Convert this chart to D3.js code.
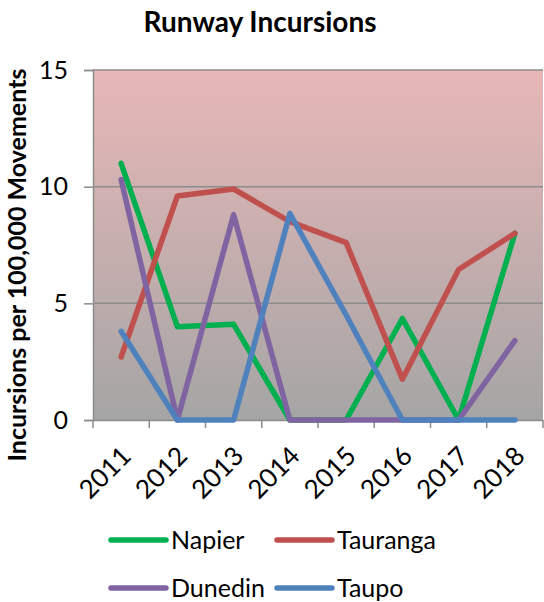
<!DOCTYPE html>
<html>
<head>
<meta charset="utf-8">
<script src="https://cdn.jsdelivr.net/npm/d3@7"></script>
<style>
  body { margin: 0; background: #fff; }
  svg { font-family: Lato, "Open Sans", sans-serif; }
</style>
</head>
<body>
<svg id="chart" width="544" height="602"></svg>
<script>
// chart data
var years = ["2011", "2012", "2013", "2014", "2015", "2016", "2017", "2018"];
var napier = [11.0, 4.0, 4.1, 0, 0, 4.35, 0, 8.0];
var tauranga = [2.7, 9.6, 9.9, 8.5, 7.6, 1.75, 6.45, 8.0];
var dunedin = [10.3, 0, 8.8, 0, 0, 0, 0, 3.4];
var taupo = [3.8, 0, 0, 8.85, 4.5, 0, 0, 0];
var yTicks = [0, 5, 10, 15];

var series = [
  { name: "Napier", color: "#00b050", values: napier },
  { name: "Tauranga", color: "#c0504d", values: tauranga },
  { name: "Dunedin", color: "#8064a2", values: dunedin },
  { name: "Taupo", color: "#4f81bd", values: taupo }
];

var svg = d3.select("#chart");
var plotLeft = 93, plotRight = 543, plotTop = 70, plotBottom = 420;

var x = d3.scaleBand().domain(years).range([plotLeft, plotRight]);
var y = d3.scaleLinear().domain([0, 15]).range([plotBottom, plotTop]);

// background gradient
var grad = svg.append("defs").append("linearGradient")
    .attr("id", "bg").attr("x1", 0).attr("y1", 0).attr("x2", 0).attr("y2", 1);
grad.append("stop").attr("offset", "0%").attr("stop-color", "#e8b7b7");
grad.append("stop").attr("offset", "100%").attr("stop-color", "#a5a5a5");

svg.append("rect")
    .attr("x", plotLeft).attr("y", plotTop)
    .attr("width", plotRight - plotLeft).attr("height", plotBottom - plotTop)
    .attr("fill", "url(#bg)");

// gridlines
svg.append("g").selectAll("line")
  .data(yTicks.filter(function(d) { return d > 0; }))
  .enter().append("line")
    .attr("x1", plotLeft).attr("x2", plotRight)
    .attr("y1", function(d) { return y(d); })
    .attr("y2", function(d) { return y(d); })
    .attr("stroke", "#8c8c8c").attr("stroke-width", 1.5);

// y axis
var yAxis = svg.append("g")
    .attr("transform", "translate(" + plotLeft + ",0)")
    .call(d3.axisLeft(y).tickValues(yTicks).tickSize(9).tickPadding(16));
yAxis.select(".domain").attr("stroke", "#8c8c8c").attr("stroke-width", 1.5);
yAxis.selectAll(".tick line").attr("stroke", "#8c8c8c").attr("stroke-width", 1.5);
yAxis.selectAll("text")
    .attr("font-size", 25).attr("fill", "#000")
    .style("font-family", "Lato, sans-serif");

// x axis
var xAxis = svg.append("g")
    .attr("transform", "translate(0," + plotBottom + ")")
    .call(d3.axisBottom(x).tickSize(0).tickFormat(""));
xAxis.select(".domain").attr("stroke", "#8c8c8c").attr("stroke-width", 1.5);

var bounds = years.map(function(d) { return x(d); }).concat([plotRight]);
svg.append("g").selectAll("line")
  .data(bounds)
  .enter().append("line")
    .attr("x1", function(d) { return d; }).attr("x2", function(d) { return d; })
    .attr("y1", plotBottom).attr("y2", plotBottom + 8)
    .attr("stroke", "#8c8c8c").attr("stroke-width", 1.5);

svg.append("g").selectAll("text")
  .data(years)
  .enter().append("text")
    .attr("transform", function(d) {
      return "translate(" + (x(d) + x.bandwidth() / 2 + 7) + "," + (plotBottom + 33) + ") rotate(-45)";
    })
    .attr("text-anchor", "end")
    .attr("dominant-baseline", "middle")
    .attr("font-size", 26)
    .text(function(d) { return d; });

// lines
var line = d3.line()
    .x(function(d, i) { return x(years[i]) + x.bandwidth() / 2; })
    .y(function(d) { return y(d); });

svg.append("g").selectAll("path")
  .data(series)
  .enter().append("path")
    .attr("d", function(s) { return line(s.values); })
    .attr("fill", "none")
    .attr("stroke", function(s) { return s.color; })
    .attr("stroke-width", 5.5)
    .attr("stroke-linejoin", "round")
    .attr("stroke-linecap", "round");

// title
svg.append("text")
    .attr("x", 260).attr("y", 32)
    .attr("text-anchor", "middle")
    .attr("font-size", 28).attr("font-weight", "bold")
    .text("Runway Incursions");

// y axis title
svg.append("text")
    .attr("transform", "translate(26,265) rotate(-90)")
    .attr("text-anchor", "middle")
    .attr("font-size", 25).attr("font-weight", "bold")
    .text("Incursions per 100,000 Movements");

// legend
var legend = svg.append("g").selectAll("g")
  .data(series)
  .enter().append("g")
    .attr("transform", function(d, i) {
      return "translate(" + (111 + (i % 2) * 166) + "," + (540 + Math.floor(i / 2) * 48) + ")";
    });
legend.append("line")
    .attr("x1", 0).attr("x2", 55)
    .attr("stroke", function(d) { return d.color; })
    .attr("stroke-width", 5.5).attr("stroke-linecap", "round");
legend.append("text")
    .attr("x", 60).attr("dy", "0.35em")
    .attr("font-size", 25)
    .text(function(d) { return d.name; });
</script>
</body>
</html>
